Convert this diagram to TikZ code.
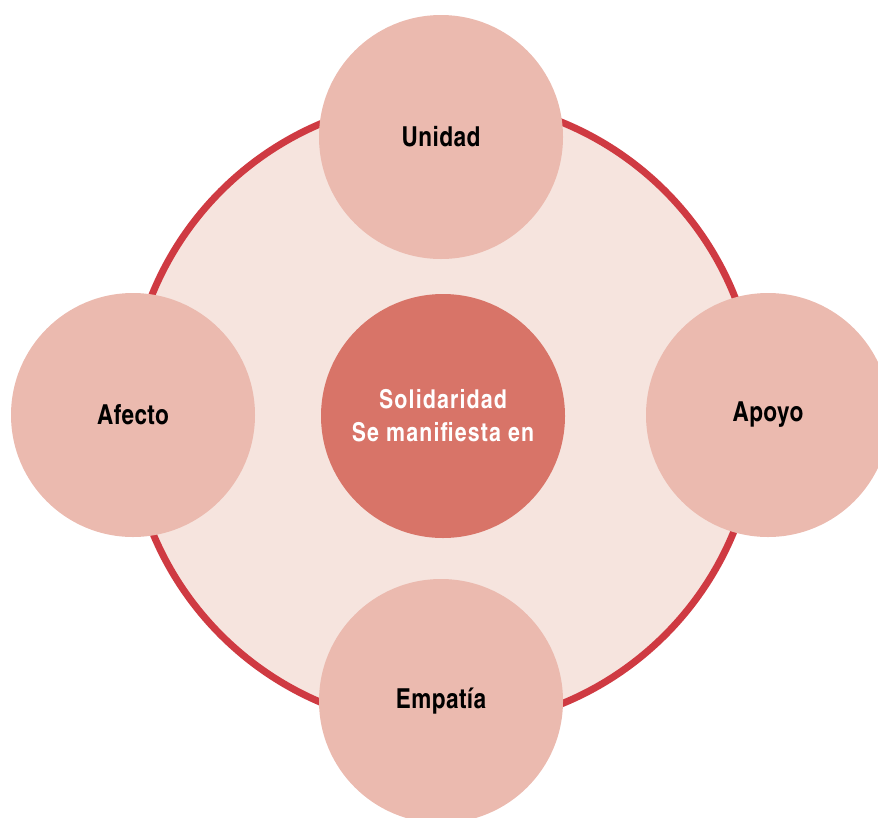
\documentclass[tikz,border=0pt]{standalone}
\usepackage{fontspec}
\setmainfont{texgyreheroscn-bold.otf}
\newfontfamily\corefont{texgyreheroscn-bold.otf}[LetterSpace=4.5]
\newfontfamily\satfont{texgyreheroscn-bold.otf}[LetterSpace=1.5]
\definecolor{ringred}{HTML}{CF3A42}
\definecolor{ringfill}{HTML}{F6E4DE}
\definecolor{satfill}{HTML}{EBBAAF}
\definecolor{corefill}{HTML}{D87468}
\tikzset{
  sat/.style={circle, fill=satfill, minimum size=244pt, inner sep=0pt, font=\satfont\fontsize{27.5}{33}\selectfont, text=black},
  core/.style={circle, fill=corefill, minimum size=244pt, inner sep=0pt, font=\corefont\fontsize{26}{33}\selectfont, text=white, align=center},
  ring/.style={circle, draw=ringred, line width=7pt, fill=ringfill, minimum size=628pt, inner sep=0pt}
}
\begin{document}
\begin{tikzpicture}[x=1pt,y=-1pt]
\useasboundingbox (0,0) rectangle (878,817);
\clip (0,0) rectangle (878,817);
\node[ring] (ring) at (443,413) {};
\node[core] (core) at (443,416) {Solidaridad\\Se manifiesta en};
\node[sat] (unidad) at (441,137) {Unidad};
\node[sat] (afecto) at (133,415) {Afecto};
\node[sat] (apoyo) at (768,415) {Apoyo};
\node[sat] (empatia) at (441,701) {Empatía};
\end{tikzpicture}
\end{document}
